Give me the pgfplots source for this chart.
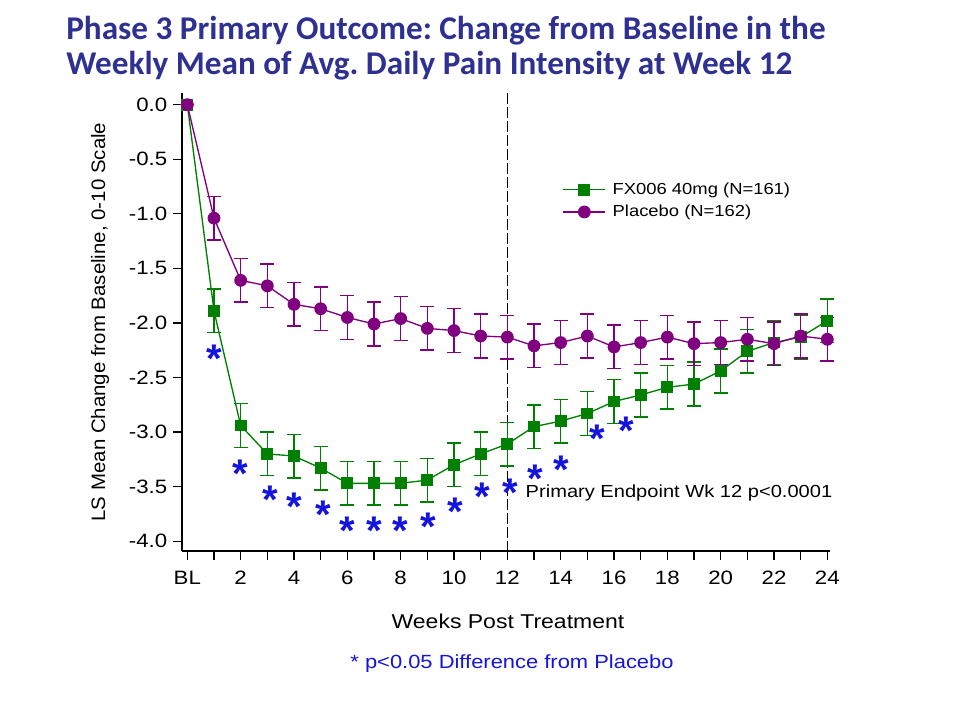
\documentclass[border=0pt]{standalone}
\usepackage{pgfplots}
\pgfplotsset{compat=1.18}
\usepackage{fontspec}
\setmainfont{Liberation Sans}[FakeStretch=1.15]
\newfontfamily\titlefont{Carlito}
\newfontfamily\starfont{Liberation Sans}
\newfontfamily\ylabfont{Liberation Sans}[FakeStretch=1.05]
\definecolor{titleblue}{RGB}{46,49,146}
\definecolor{fxgreen}{RGB}{0,128,0}
\definecolor{plpurple}{RGB}{128,0,128}
\definecolor{starblue}{RGB}{20,20,220}
\frenchspacing

\pgfplotstableread{
x y e
0 0 0
1 -1.89 0.20
2 -2.94 0.20
3 -3.20 0.20
4 -3.22 0.20
5 -3.33 0.20
6 -3.47 0.20
7 -3.47 0.20
8 -3.47 0.20
9 -3.44 0.20
10 -3.30 0.20
11 -3.20 0.20
12 -3.11 0.20
13 -2.95 0.20
14 -2.90 0.20
15 -2.83 0.20
16 -2.72 0.20
17 -2.66 0.20
18 -2.59 0.20
19 -2.56 0.20
20 -2.44 0.20
21 -2.26 0.20
22 -2.18 0.20
23 -2.13 0.20
24 -1.98 0.20
}\fxdata

\pgfplotstableread{
x y e
0 0 0
1 -1.04 0.20
2 -1.61 0.20
3 -1.66 0.20
4 -1.83 0.20
5 -1.87 0.20
6 -1.95 0.20
7 -2.01 0.20
8 -1.96 0.20
9 -2.05 0.20
10 -2.07 0.20
11 -2.12 0.20
12 -2.13 0.20
13 -2.21 0.20
14 -2.18 0.20
15 -2.12 0.20
16 -2.22 0.20
17 -2.18 0.20
18 -2.13 0.20
19 -2.19 0.20
20 -2.18 0.20
21 -2.15 0.20
22 -2.19 0.20
23 -2.12 0.20
24 -2.15 0.20
}\pldata

\pgfplotstableread{
x y
1 -2.24
2 -3.29
3.1 -3.53
4.02 -3.60
5.08 -3.67
6 -3.82
7 -3.82
8 -3.82
9.04 -3.78
10.06 -3.64
11.06 -3.50
12.1 -3.47
13.03 -3.34
14.03 -3.26
15.39 -2.97
16.46 -2.90
}\stars

\begin{document}
\begin{tikzpicture}[x=0.75pt,y=-0.75pt]
\path[use as bounding box] (0,0) rectangle (960,720);
\node[anchor=base west, inner sep=0pt, text=titleblue, font={\titlefont\bfseries\fontsize{24.9}{28}\selectfont}] at (66,40) {Phase 3 Primary Outcome: Change from Baseline in the};
\node[anchor=base west, inner sep=0pt, text=titleblue, font={\titlefont\bfseries\fontsize{24.9}{28}\selectfont}] at (66,75) {Weekly Mean of Avg. Daily Pain Intensity at Week 12};
\begin{axis}[
  at={(136.5pt,-413.25pt)}, anchor=south west,
  scale only axis, width=486pt, height=343.5pt,
  xmin=-0.2, xmax=24.1, ymin=-4.09, ymax=0.107,
  axis x line=bottom, axis y line=left,
  axis line style={-, line width=1.3pt, black},
  tick align=outside,
  major tick length=6.5pt,
  tick style={line width=1pt, black},
  xtick={0,1,...,24},
  xticklabels={BL,,2,,4,,6,,8,,10,,12,,14,,16,,18,,20,,22,,24},
  ytick={-4,-3.5,-3,-2.5,-2,-1.5,-1,-0.5,0},
  yticklabel style={/pgf/number format/fixed, /pgf/number format/fixed zerofill, /pgf/number format/precision=1, /pgf/number format/assume math mode=true, xshift=-1pt},
  ticklabel style={font=\fontsize{14.5}{16}\selectfont},
  xticklabel style={yshift=-5pt},
  xlabel={Weeks Post Treatment},
  ylabel={LS Mean Change from Baseline, 0-10 Scale},
  xlabel style={font=\fontsize{15}{17}\selectfont, at={(axis description cs:0.503,-0.153)}, anchor=center},
  ylabel style={font=\ylabfont\fontsize{14.6}{17}\selectfont, at={(axis description cs:-0.1265,0.5)}, anchor=center},
  legend style={draw=none, fill=none, at={(axis description cs:0.585,0.813)}, anchor=north west,
    font=\fontsize{12}{14}\selectfont, row sep=2.5pt, inner sep=1pt,
    nodes={inner xsep=5pt}},
  legend cell align=left,
  legend image code/.code={\draw[mark repeat=2,mark phase=2] plot coordinates {(0pt,0pt)(15.75pt,0pt)(31.5pt,0pt)};},
  clip=false,
]
\addplot[black, dashed, line width=0.8pt, dash pattern=on 8pt off 2.5pt, forget plot] coordinates {(12,0.107) (12,-4.09)};
\addplot[fxgreen, line width=1pt, mark=square*, mark size=3.9pt, mark options={solid, fill=fxgreen},
  error bars/.cd, y dir=both, y explicit, error bar style={line width=1.1pt, fxgreen},
  error mark options={rotate=90, line width=1.1pt, mark size=5.2pt, fxgreen}]
  table[x=x, y=y, y error=e] {\fxdata};
\addlegendentry{FX006 40mg (N=161)}
\addplot[plpurple, line width=1pt, mark=*, mark size=4.3pt, mark options={solid, fill=plpurple},
  error bars/.cd, y dir=both, y explicit, error bar style={line width=1.1pt, plpurple},
  error mark options={rotate=90, line width=1.1pt, mark size=5.2pt, plpurple}]
  table[x=x, y=y, y error=e] {\pldata};
\addlegendentry{Placebo (N=162)}
\addplot[only marks, mark=text, text mark={\smash{\starfont\bfseries\fontsize{30}{30}\selectfont\color{starblue}\raisebox{-0.585em}{*}}}, forget plot]
  table[x=x, y=y] {\stars};
\node[anchor=west, inner sep=0pt, font=\fontsize{13.1}{16}\selectfont] at (axis cs:12.68,-3.56) {Primary Endpoint Wk 12 p<0.0001};
\end{axis}
\node[anchor=center, text=starblue, font=\fontsize{14.3}{16}\selectfont] at (512,664) {* p<0.05 Difference from Placebo};
\end{tikzpicture}
\end{document}
